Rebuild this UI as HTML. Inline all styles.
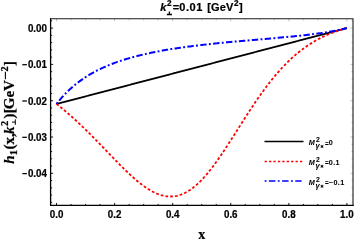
<!DOCTYPE html>
<html><head><meta charset="utf-8"><style>
html,body{margin:0;padding:0;background:#fff;}
svg{display:block;will-change:transform;}
text{font-family:"Liberation Sans",sans-serif;font-weight:bold;fill:#000;stroke:#000;stroke-width:0.22px;}
.lg text{stroke-width:0.06px;}
.serif text{font-family:"Liberation Serif",serif;font-weight:bold;}
</style></head><body>
<svg width="357" height="243" viewBox="0 0 357 243">
<rect x="0" y="0" width="357" height="243" fill="#fff"/>
<g fill="none" stroke-linecap="butt" stroke-linejoin="round">
<path d="M56.55,103.97 L58.00,103.59 L59.45,103.21 L60.91,102.83 L62.36,102.45 L63.81,102.07 L65.26,101.69 L66.71,101.31 L68.16,100.93 L69.62,100.55 L71.07,100.17 L72.52,99.79 L73.97,99.41 L75.42,99.04 L76.87,98.66 L78.33,98.28 L79.78,97.90 L81.23,97.52 L82.68,97.14 L84.13,96.76 L85.58,96.38 L87.04,96.00 L88.49,95.62 L89.94,95.24 L91.39,94.86 L92.84,94.48 L94.30,94.10 L95.75,93.72 L97.20,93.35 L98.65,92.97 L100.10,92.59 L101.55,92.21 L103.01,91.83 L104.46,91.45 L105.91,91.07 L107.36,90.69 L108.81,90.31 L110.26,89.93 L111.72,89.55 L113.17,89.17 L114.62,88.79 L116.07,88.41 L117.52,88.03 L118.98,87.66 L120.43,87.28 L121.88,86.90 L123.33,86.52 L124.78,86.14 L126.23,85.76 L127.69,85.38 L129.14,85.00 L130.59,84.62 L132.04,84.24 L133.49,83.86 L134.94,83.48 L136.40,83.10 L137.85,82.72 L139.30,82.34 L140.75,81.97 L142.20,81.59 L143.65,81.21 L145.11,80.83 L146.56,80.45 L148.01,80.07 L149.46,79.69 L150.91,79.31 L152.37,78.93 L153.82,78.55 L155.27,78.17 L156.72,77.79 L158.17,77.41 L159.62,77.03 L161.08,76.65 L162.53,76.28 L163.98,75.90 L165.43,75.52 L166.88,75.14 L168.33,74.76 L169.79,74.38 L171.24,74.00 L172.69,73.62 L174.14,73.24 L175.59,72.86 L177.05,72.48 L178.50,72.10 L179.95,71.72 L181.40,71.34 L182.85,70.96 L184.30,70.59 L185.76,70.21 L187.21,69.83 L188.66,69.45 L190.11,69.07 L191.56,68.69 L193.01,68.31 L194.47,67.93 L195.92,67.55 L197.37,67.17 L198.82,66.79 L200.27,66.41 L201.72,66.03 L203.18,65.65 L204.63,65.27 L206.08,64.90 L207.53,64.52 L208.98,64.14 L210.44,63.76 L211.89,63.38 L213.34,63.00 L214.79,62.62 L216.24,62.24 L217.69,61.86 L219.15,61.48 L220.60,61.10 L222.05,60.72 L223.50,60.34 L224.95,59.96 L226.40,59.58 L227.86,59.21 L229.31,58.83 L230.76,58.45 L232.21,58.07 L233.66,57.69 L235.12,57.31 L236.57,56.93 L238.02,56.55 L239.47,56.17 L240.92,55.79 L242.37,55.41 L243.83,55.03 L245.28,54.65 L246.73,54.27 L248.18,53.89 L249.63,53.52 L251.08,53.14 L252.54,52.76 L253.99,52.38 L255.44,52.00 L256.89,51.62 L258.34,51.24 L259.80,50.86 L261.25,50.48 L262.70,50.10 L264.15,49.72 L265.60,49.34 L267.05,48.96 L268.51,48.58 L269.96,48.20 L271.41,47.83 L272.86,47.45 L274.31,47.07 L275.76,46.69 L277.22,46.31 L278.67,45.93 L280.12,45.55 L281.57,45.17 L283.02,44.79 L284.47,44.41 L285.93,44.03 L287.38,43.65 L288.83,43.27 L290.28,42.89 L291.73,42.51 L293.19,42.14 L294.64,41.76 L296.09,41.38 L297.54,41.00 L298.99,40.62 L300.44,40.24 L301.90,39.86 L303.35,39.48 L304.80,39.10 L306.25,38.72 L307.70,38.34 L309.15,37.96 L310.61,37.58 L312.06,37.20 L313.51,36.82 L314.96,36.45 L316.41,36.07 L317.87,35.69 L319.32,35.31 L320.77,34.93 L322.22,34.55 L323.67,34.17 L325.12,33.79 L326.58,33.41 L328.03,33.03 L329.48,32.65 L330.93,32.27 L332.38,31.89 L333.83,31.51 L335.29,31.13 L336.74,30.76 L338.19,30.38 L339.64,30.00 L341.09,29.62 L342.54,29.24 L344.00,28.86 L345.45,28.48 L346.90,28.10" stroke="#000" stroke-width="1.8"/>
<path d="M56.55,103.97 L58.00,105.11 L59.45,106.27 L60.91,107.45 L62.36,108.64 L63.81,109.85 L65.26,111.07 L66.71,112.30 L68.16,113.55 L69.62,114.82 L71.07,116.10 L72.52,117.39 L73.97,118.70 L75.42,120.02 L76.87,121.36 L78.33,122.71 L79.78,124.07 L81.23,125.45 L82.68,126.84 L84.13,128.24 L85.58,129.65 L87.04,131.07 L88.49,132.50 L89.94,133.95 L91.39,135.40 L92.84,136.86 L94.30,138.33 L95.75,139.81 L97.20,141.30 L98.65,142.79 L100.10,144.29 L101.55,145.79 L103.01,147.30 L104.46,148.80 L105.91,150.31 L107.36,151.83 L108.81,153.34 L110.26,154.85 L111.72,156.36 L113.17,157.86 L114.62,159.36 L116.07,160.85 L117.52,162.34 L118.98,163.81 L120.43,165.28 L121.88,166.73 L123.33,168.17 L124.78,169.60 L126.23,171.00 L127.69,172.39 L129.14,173.76 L130.59,175.11 L132.04,176.44 L133.49,177.74 L134.94,179.01 L136.40,180.25 L137.85,181.47 L139.30,182.65 L140.75,183.79 L142.20,184.90 L143.65,185.97 L145.11,187.00 L146.56,187.98 L148.01,188.93 L149.46,189.82 L150.91,190.67 L152.37,191.47 L153.82,192.22 L155.27,192.91 L156.72,193.55 L158.17,194.12 L159.62,194.65 L161.08,195.11 L162.53,195.50 L163.98,195.84 L165.43,196.11 L166.88,196.31 L168.33,196.45 L169.79,196.52 L171.24,196.52 L172.69,196.44 L174.14,196.30 L175.59,196.08 L177.05,195.80 L178.50,195.43 L179.95,195.00 L181.40,194.49 L182.85,193.91 L184.30,193.25 L185.76,192.52 L187.21,191.72 L188.66,190.84 L190.11,189.90 L191.56,188.88 L193.01,187.79 L194.47,186.63 L195.92,185.40 L197.37,184.11 L198.82,182.74 L200.27,181.32 L201.72,179.83 L203.18,178.29 L204.63,176.68 L206.08,175.02 L207.53,173.30 L208.98,171.53 L210.44,169.71 L211.89,167.84 L213.34,165.93 L214.79,163.97 L216.24,161.97 L217.69,159.93 L219.15,157.86 L220.60,155.76 L222.05,153.62 L223.50,151.46 L224.95,149.27 L226.40,147.06 L227.86,144.83 L229.31,142.59 L230.76,140.33 L232.21,138.06 L233.66,135.78 L235.12,133.49 L236.57,131.20 L238.02,128.91 L239.47,126.61 L240.92,124.32 L242.37,122.04 L243.83,119.76 L245.28,117.50 L246.73,115.24 L248.18,113.00 L249.63,110.77 L251.08,108.57 L252.54,106.38 L253.99,104.21 L255.44,102.06 L256.89,99.93 L258.34,97.83 L259.80,95.76 L261.25,93.71 L262.70,91.69 L264.15,89.70 L265.60,87.74 L267.05,85.81 L268.51,83.92 L269.96,82.05 L271.41,80.22 L272.86,78.42 L274.31,76.65 L275.76,74.92 L277.22,73.23 L278.67,71.57 L280.12,69.94 L281.57,68.35 L283.02,66.79 L284.47,65.27 L285.93,63.78 L287.38,62.33 L288.83,60.91 L290.28,59.53 L291.73,58.18 L293.19,56.87 L294.64,55.59 L296.09,54.34 L297.54,53.13 L298.99,51.95 L300.44,50.80 L301.90,49.69 L303.35,48.60 L304.80,47.55 L306.25,46.53 L307.70,45.53 L309.15,44.57 L310.61,43.64 L312.06,42.73 L313.51,41.85 L314.96,41.00 L316.41,40.18 L317.87,39.38 L319.32,38.61 L320.77,37.87 L322.22,37.14 L323.67,36.45 L325.12,35.77 L326.58,35.12 L328.03,34.49 L329.48,33.88 L330.93,33.30 L332.38,32.73 L333.83,32.19 L335.29,31.66 L336.74,31.15 L338.19,30.67 L339.64,30.20 L341.09,29.74 L342.54,29.31 L344.00,28.89 L345.45,28.49 L346.90,28.10" stroke="#ff0000" stroke-width="1.8" stroke-dasharray="2.7 2.1"/>
<path d="M56.55,103.97 L58.00,102.11 L59.45,100.32 L60.91,98.60 L62.36,96.95 L63.81,95.35 L65.26,93.82 L66.71,92.34 L68.16,90.91 L69.62,89.54 L71.07,88.21 L72.52,86.93 L73.97,85.69 L75.42,84.49 L76.87,83.34 L78.33,82.22 L79.78,81.13 L81.23,80.09 L82.68,79.07 L84.13,78.09 L85.58,77.14 L87.04,76.21 L88.49,75.32 L89.94,74.45 L91.39,73.61 L92.84,72.79 L94.30,72.00 L95.75,71.23 L97.20,70.48 L98.65,69.75 L100.10,69.04 L101.55,68.36 L103.01,67.69 L104.46,67.04 L105.91,66.40 L107.36,65.79 L108.81,65.18 L110.26,64.60 L111.72,64.03 L113.17,63.47 L114.62,62.93 L116.07,62.41 L117.52,61.89 L118.98,61.39 L120.43,60.90 L121.88,60.42 L123.33,59.96 L124.78,59.50 L126.23,59.05 L127.69,58.62 L129.14,58.20 L130.59,57.78 L132.04,57.38 L133.49,56.98 L134.94,56.59 L136.40,56.21 L137.85,55.84 L139.30,55.48 L140.75,55.12 L142.20,54.78 L143.65,54.44 L145.11,54.10 L146.56,53.78 L148.01,53.46 L149.46,53.15 L150.91,52.84 L152.37,52.54 L153.82,52.24 L155.27,51.96 L156.72,51.67 L158.17,51.39 L159.62,51.12 L161.08,50.85 L162.53,50.59 L163.98,50.33 L165.43,50.08 L166.88,49.83 L168.33,49.59 L169.79,49.35 L171.24,49.11 L172.69,48.88 L174.14,48.65 L175.59,48.43 L177.05,48.21 L178.50,47.99 L179.95,47.78 L181.40,47.57 L182.85,47.37 L184.30,47.17 L185.76,46.97 L187.21,46.77 L188.66,46.58 L190.11,46.39 L191.56,46.20 L193.01,46.01 L194.47,45.83 L195.92,45.65 L197.37,45.48 L198.82,45.30 L200.27,45.13 L201.72,44.96 L203.18,44.79 L204.63,44.63 L206.08,44.46 L207.53,44.30 L208.98,44.14 L210.44,43.99 L211.89,43.83 L213.34,43.68 L214.79,43.53 L216.24,43.38 L217.69,43.23 L219.15,43.08 L220.60,42.93 L222.05,42.79 L223.50,42.65 L224.95,42.51 L226.40,42.37 L227.86,42.23 L229.31,42.09 L230.76,41.95 L232.21,41.82 L233.66,41.69 L235.12,41.55 L236.57,41.42 L238.02,41.29 L239.47,41.16 L240.92,41.03 L242.37,40.90 L243.83,40.77 L245.28,40.64 L246.73,40.52 L248.18,40.39 L249.63,40.26 L251.08,40.14 L252.54,40.01 L253.99,39.89 L255.44,39.76 L256.89,39.64 L258.34,39.51 L259.80,39.39 L261.25,39.26 L262.70,39.14 L264.15,39.01 L265.60,38.89 L267.05,38.76 L268.51,38.64 L269.96,38.51 L271.41,38.39 L272.86,38.26 L274.31,38.13 L275.76,38.00 L277.22,37.88 L278.67,37.75 L280.12,37.62 L281.57,37.48 L283.02,37.35 L284.47,37.22 L285.93,37.08 L287.38,36.95 L288.83,36.81 L290.28,36.67 L291.73,36.53 L293.19,36.39 L294.64,36.24 L296.09,36.09 L297.54,35.94 L298.99,35.79 L300.44,35.64 L301.90,35.48 L303.35,35.33 L304.80,35.16 L306.25,35.00 L307.70,34.83 L309.15,34.66 L310.61,34.48 L312.06,34.31 L313.51,34.12 L314.96,33.94 L316.41,33.74 L317.87,33.55 L319.32,33.35 L320.77,33.14 L322.22,32.93 L323.67,32.71 L325.12,32.49 L326.58,32.26 L328.03,32.02 L329.48,31.78 L330.93,31.52 L332.38,31.26 L333.83,30.99 L335.29,30.72 L336.74,30.43 L338.19,30.13 L339.64,29.82 L341.09,29.51 L342.54,29.17 L344.00,28.83 L345.45,28.47 L346.90,28.10" stroke="#0000ff" stroke-width="2.0" stroke-dasharray="1.9 2.35 6.4 2.31"/>
</g>
<g stroke="#000" stroke-width="0.9"><line x1="50.6" y1="202.34" x2="52.1" y2="202.34"/><line x1="50.6" y1="195.08" x2="52.1" y2="195.08"/><line x1="50.6" y1="187.82" x2="52.1" y2="187.82"/><line x1="50.6" y1="180.56" x2="52.1" y2="180.56"/><line x1="50.6" y1="173.30" x2="53.1" y2="173.30"/><line x1="50.6" y1="166.04" x2="52.1" y2="166.04"/><line x1="50.6" y1="158.78" x2="52.1" y2="158.78"/><line x1="50.6" y1="151.52" x2="52.1" y2="151.52"/><line x1="50.6" y1="144.26" x2="52.1" y2="144.26"/><line x1="50.6" y1="137.00" x2="53.1" y2="137.00"/><line x1="50.6" y1="129.74" x2="52.1" y2="129.74"/><line x1="50.6" y1="122.48" x2="52.1" y2="122.48"/><line x1="50.6" y1="115.22" x2="52.1" y2="115.22"/><line x1="50.6" y1="107.96" x2="52.1" y2="107.96"/><line x1="50.6" y1="100.70" x2="53.1" y2="100.70"/><line x1="50.6" y1="93.44" x2="52.1" y2="93.44"/><line x1="50.6" y1="86.18" x2="52.1" y2="86.18"/><line x1="50.6" y1="78.92" x2="52.1" y2="78.92"/><line x1="50.6" y1="71.66" x2="52.1" y2="71.66"/><line x1="50.6" y1="64.40" x2="53.1" y2="64.40"/><line x1="50.6" y1="57.14" x2="52.1" y2="57.14"/><line x1="50.6" y1="49.88" x2="52.1" y2="49.88"/><line x1="50.6" y1="42.62" x2="52.1" y2="42.62"/><line x1="50.6" y1="35.36" x2="52.1" y2="35.36"/><line x1="50.6" y1="28.10" x2="53.1" y2="28.10"/><line x1="50.6" y1="20.84" x2="52.1" y2="20.84"/><line x1="56.55" y1="205.4" x2="56.55" y2="202.9"/><line x1="71.07" y1="205.4" x2="71.07" y2="203.9"/><line x1="85.58" y1="205.4" x2="85.58" y2="203.9"/><line x1="100.10" y1="205.4" x2="100.10" y2="203.9"/><line x1="114.62" y1="205.4" x2="114.62" y2="202.9"/><line x1="129.14" y1="205.4" x2="129.14" y2="203.9"/><line x1="143.66" y1="205.4" x2="143.66" y2="203.9"/><line x1="158.17" y1="205.4" x2="158.17" y2="203.9"/><line x1="172.69" y1="205.4" x2="172.69" y2="202.9"/><line x1="187.21" y1="205.4" x2="187.21" y2="203.9"/><line x1="201.72" y1="205.4" x2="201.72" y2="203.9"/><line x1="216.24" y1="205.4" x2="216.24" y2="203.9"/><line x1="230.76" y1="205.4" x2="230.76" y2="202.9"/><line x1="245.28" y1="205.4" x2="245.28" y2="203.9"/><line x1="259.80" y1="205.4" x2="259.80" y2="203.9"/><line x1="274.31" y1="205.4" x2="274.31" y2="203.9"/><line x1="288.83" y1="205.4" x2="288.83" y2="202.9"/><line x1="303.35" y1="205.4" x2="303.35" y2="203.9"/><line x1="317.87" y1="205.4" x2="317.87" y2="203.9"/><line x1="332.38" y1="205.4" x2="332.38" y2="203.9"/><line x1="346.90" y1="205.4" x2="346.90" y2="202.9"/></g>
<g stroke="#999" stroke-width="0.6"><line x1="353.0" y1="202.34" x2="351.5" y2="202.34"/><line x1="353.0" y1="195.08" x2="351.5" y2="195.08"/><line x1="353.0" y1="187.82" x2="351.5" y2="187.82"/><line x1="353.0" y1="180.56" x2="351.5" y2="180.56"/><line x1="353.0" y1="173.30" x2="350.5" y2="173.30"/><line x1="353.0" y1="166.04" x2="351.5" y2="166.04"/><line x1="353.0" y1="158.78" x2="351.5" y2="158.78"/><line x1="353.0" y1="151.52" x2="351.5" y2="151.52"/><line x1="353.0" y1="144.26" x2="351.5" y2="144.26"/><line x1="353.0" y1="137.00" x2="350.5" y2="137.00"/><line x1="353.0" y1="129.74" x2="351.5" y2="129.74"/><line x1="353.0" y1="122.48" x2="351.5" y2="122.48"/><line x1="353.0" y1="115.22" x2="351.5" y2="115.22"/><line x1="353.0" y1="107.96" x2="351.5" y2="107.96"/><line x1="353.0" y1="100.70" x2="350.5" y2="100.70"/><line x1="353.0" y1="93.44" x2="351.5" y2="93.44"/><line x1="353.0" y1="86.18" x2="351.5" y2="86.18"/><line x1="353.0" y1="78.92" x2="351.5" y2="78.92"/><line x1="353.0" y1="71.66" x2="351.5" y2="71.66"/><line x1="353.0" y1="64.40" x2="350.5" y2="64.40"/><line x1="353.0" y1="57.14" x2="351.5" y2="57.14"/><line x1="353.0" y1="49.88" x2="351.5" y2="49.88"/><line x1="353.0" y1="42.62" x2="351.5" y2="42.62"/><line x1="353.0" y1="35.36" x2="351.5" y2="35.36"/><line x1="353.0" y1="28.10" x2="350.5" y2="28.10"/><line x1="353.0" y1="20.84" x2="351.5" y2="20.84"/><line x1="56.55" y1="18.8" x2="56.55" y2="21.3"/><line x1="71.07" y1="18.8" x2="71.07" y2="20.3"/><line x1="85.58" y1="18.8" x2="85.58" y2="20.3"/><line x1="100.10" y1="18.8" x2="100.10" y2="20.3"/><line x1="114.62" y1="18.8" x2="114.62" y2="21.3"/><line x1="129.14" y1="18.8" x2="129.14" y2="20.3"/><line x1="143.66" y1="18.8" x2="143.66" y2="20.3"/><line x1="158.17" y1="18.8" x2="158.17" y2="20.3"/><line x1="172.69" y1="18.8" x2="172.69" y2="21.3"/><line x1="187.21" y1="18.8" x2="187.21" y2="20.3"/><line x1="201.72" y1="18.8" x2="201.72" y2="20.3"/><line x1="216.24" y1="18.8" x2="216.24" y2="20.3"/><line x1="230.76" y1="18.8" x2="230.76" y2="21.3"/><line x1="245.28" y1="18.8" x2="245.28" y2="20.3"/><line x1="259.80" y1="18.8" x2="259.80" y2="20.3"/><line x1="274.31" y1="18.8" x2="274.31" y2="20.3"/><line x1="288.83" y1="18.8" x2="288.83" y2="21.3"/><line x1="303.35" y1="18.8" x2="303.35" y2="20.3"/><line x1="317.87" y1="18.8" x2="317.87" y2="20.3"/><line x1="332.38" y1="18.8" x2="332.38" y2="20.3"/><line x1="346.90" y1="18.8" x2="346.90" y2="21.3"/></g>
<g fill="none" stroke-linecap="square"><path d="M50.6,18.8H353.0V205.4" stroke="#1c1c1c" stroke-width="1.1"/><path d="M50.6,18.8V205.4H353.0" stroke="#000" stroke-width="1.3"/></g>
<g font-size="10.4px"><text transform="translate(46.9,32.18) scale(0.94,1)" text-anchor="end">0.00</text><text transform="translate(46.9,68.48) scale(0.94,1)" text-anchor="end">0.01</text><path d="M22.3,64.70H26.9" stroke="#000" stroke-width="1.25" fill="none"/><text transform="translate(46.9,104.78) scale(0.94,1)" text-anchor="end">0.02</text><path d="M22.3,101.00H26.9" stroke="#000" stroke-width="1.25" fill="none"/><text transform="translate(46.9,141.08) scale(0.94,1)" text-anchor="end">0.03</text><path d="M22.3,137.30H26.9" stroke="#000" stroke-width="1.25" fill="none"/><text transform="translate(46.9,177.38) scale(0.94,1)" text-anchor="end">0.04</text><path d="M22.3,173.60H26.9" stroke="#000" stroke-width="1.25" fill="none"/><text transform="translate(56.55,218.3) scale(0.94,1)" text-anchor="middle">0.0</text><text transform="translate(114.62,218.3) scale(0.94,1)" text-anchor="middle">0.2</text><text transform="translate(172.69,218.3) scale(0.94,1)" text-anchor="middle">0.4</text><text transform="translate(230.76,218.3) scale(0.94,1)" text-anchor="middle">0.6</text><text transform="translate(288.83,218.3) scale(0.94,1)" text-anchor="middle">0.8</text><text transform="translate(346.90,218.3) scale(0.94,1)" text-anchor="middle">1.0</text></g>
<!-- title -->
<g font-size="11px">
<text x="160.2" y="11.2" font-style="italic">k</text>
<text x="166.9" y="5.9" font-size="8.2px">2</text>
<path d="M166.8,14.5H172.0M169.4,14.5V11.6" stroke="#000" stroke-width="1.3" fill="none"/>
<text x="172.7" y="11.2">=</text><text x="179.3" y="11.2" letter-spacing="0.55">0.01</text>
<text x="207.2" y="11.2" letter-spacing="0.12">[GeV</text>
<text x="233.9" y="6.0" font-size="8.2px">2</text>
<text x="238.9" y="11.2">]</text>
</g>
<!-- x label -->
<g class="serif"><text x="201.7" y="238.7" font-size="14px" text-anchor="middle">x</text></g>
<!-- y label -->
<g class="serif" transform="translate(14,163.8) rotate(-90)" font-size="15px">
<text x="0" y="0" font-style="italic">h</text>
<text x="8.5" y="2.6" font-size="10.5px">1</text>
<text x="14.3" y="0">(x,</text>
<text x="29.85" y="0" font-style="italic">k</text>
<text x="37.8" y="-6.5" font-size="10.2px">2</text>
<path d="M39.0,1.3H44.4M41.7,1.3V-2.0" stroke="#000" stroke-width="1" fill="none"/>
<text x="45.3" y="0">)</text>
<text x="50.6" y="0">[</text>
<text x="54.6" y="0">GeV</text>
<path d="M84.6,-8.6H92.0" stroke="#000" stroke-width="1.1" fill="none"/>
<text x="92.2" y="-6.2" font-size="10.2px">2</text>
<text x="97.7" y="0">]</text>
</g>
<!-- legend -->
<g fill="none">
<line x1="264.5" y1="141.5" x2="303.5" y2="141.5" stroke="#000" stroke-width="1.5"/>
<line x1="264.6" y1="161.5" x2="302.3" y2="161.5" stroke="#ff0000" stroke-width="1.5" stroke-dasharray="2.3 2.12"/>
<line x1="264.6" y1="181.0" x2="301.6" y2="181.0" stroke="#0000ff" stroke-width="1.7" stroke-dasharray="1.9 2.4 6.5 2.4"/>
</g>
<g class="lg"><text x="308.7" y="144.7" font-size="7.2px" font-style="italic">M</text><text x="316.0" y="142.2" font-size="6.8px">2</text><text x="315.5" y="147.79999999999998" font-size="7.5px" font-style="italic">γ</text><path d="M322.00,144.95L322.00,148.05M320.66,145.72L323.34,147.28M320.66,147.28L323.34,145.72" stroke="#000" stroke-width="0.95" fill="none"/><text x="324.9" y="145.6" font-size="6.4px">=</text><text x="328.8" y="144.7" font-size="7.2px" letter-spacing="0.4">0</text>
<text x="308.7" y="164.5" font-size="7.2px" font-style="italic">M</text><text x="316.0" y="162.0" font-size="6.8px">2</text><text x="315.5" y="167.6" font-size="7.5px" font-style="italic">γ</text><path d="M322.00,164.75L322.00,167.85M320.66,165.53L323.34,167.08M320.66,167.08L323.34,165.53" stroke="#000" stroke-width="0.95" fill="none"/><text x="324.9" y="165.4" font-size="6.4px">=</text><text x="328.8" y="164.5" font-size="7.2px" letter-spacing="0.4">0.1</text>
<text x="308.7" y="184.5" font-size="7.2px" font-style="italic">M</text><text x="316.0" y="182.0" font-size="6.8px">2</text><text x="315.5" y="187.6" font-size="7.5px" font-style="italic">γ</text><path d="M322.00,184.75L322.00,187.85M320.66,185.53L323.34,187.08M320.66,187.08L323.34,185.53" stroke="#000" stroke-width="0.95" fill="none"/><text x="324.9" y="185.4" font-size="6.4px">=</text><text x="328.8" y="184.5" font-size="7.2px" letter-spacing="0.4">−0.1</text></g>
</svg>
</body></html>
